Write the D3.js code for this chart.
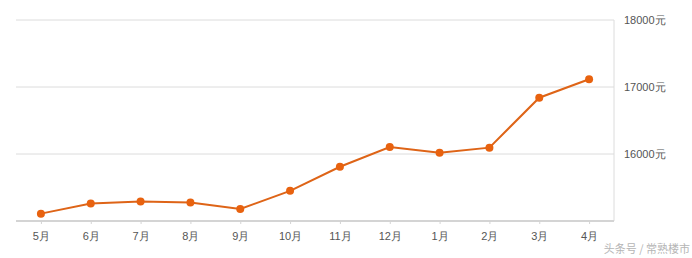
<!DOCTYPE html>
<html><head><meta charset="utf-8">
<script src="https://cdn.jsdelivr.net/npm/d3@7"></script>
<style>body{margin:0;background:#fff;}svg{display:block;font-family:"Noto Sans CJK SC","DejaVu Sans",sans-serif;}</style>
</head><body><svg id="c" width="692" height="258"></svg>
<script>
const months = ["5月","6月","7月","8月","9月","10月","11月","12月","1月","2月","3月","4月"];
const prices = [15110,15260,15290,15275,15180,15450,15810,16105,16020,16095,16840,17115];
const yTicks = [16000,17000,18000];
const yTickLabels = ["16000元","17000元","18000元"];
const watermark = "头条号 / 常熟楼市";

(function(){
const svg = d3.select("#c");
const pl = 16, pr = 614, pt = 20, pb = 221;
const x = d3.scalePoint().domain(months).range([pl, pr]).padding(0.5);
const y = d3.scaleLinear().domain([15000,18000]).range([pb, pt]);

svg.append("g").selectAll("line").data(yTicks).join("line")
  .attr("x1", pl).attr("x2", pr)
  .attr("y1", d => y(d)).attr("y2", d => y(d))
  .attr("stroke", "#dcdcdc").attr("stroke-width", 1);

const ya = svg.append("g").attr("transform", `translate(${pr},0)`)
  .call(d3.axisRight(y).tickValues(yTicks).tickSize(0).tickPadding(10)
    .tickFormat((d,i) => yTickLabels[i]));
ya.select(".domain").attr("d", `M0,${pt}V${pb}`).attr("stroke", "#dcdcdc");
ya.selectAll("text").attr("fill", "#555").attr("font-size", 11);

const xa = svg.append("g").attr("transform", `translate(0,${pb})`)
  .call(d3.axisBottom(x).tickSize(3).tickPadding(8));
xa.select(".domain").attr("d", `M${pl},0H${pr}`).attr("stroke", "#d4d4d4").attr("stroke-width", 2);
xa.selectAll(".tick line").attr("stroke", "#d4d4d4");
xa.selectAll("text").attr("fill", "#555").attr("font-size", 11);

svg.append("path").datum(prices)
  .attr("fill", "none").attr("stroke", "#de6417").attr("stroke-width", 2)
  .attr("d", d3.line().x((d,i) => x(months[i])).y(d => y(d)));

svg.append("g").selectAll("circle").data(prices).join("circle")
  .attr("cx", (d,i) => x(months[i])).attr("cy", d => y(d)).attr("r", 4)
  .attr("fill", "#e8620f");

svg.append("text").attr("x", 690).attr("y", 253).attr("text-anchor", "end")
  .attr("font-size", 11).attr("fill", "#b5b5b5").text(watermark);
})();
</script></body></html>
